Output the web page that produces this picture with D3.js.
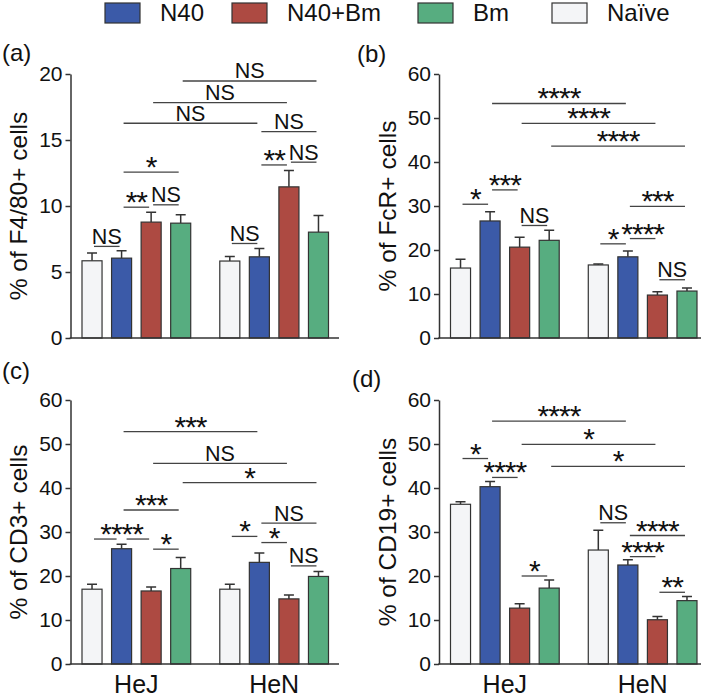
<!DOCTYPE html>
<html>
<head>
<meta charset="utf-8">
<script src="https://cdn.jsdelivr.net/npm/d3@7"></script>
<style>
  body { margin: 0; background: #fff; }
  svg text { font-family: "Liberation Sans", Arial, sans-serif; fill: #111; }
</style>
</head>
<body>
<div id="chart"></div>
<script>
// groups and treatments
const groups = ["HeJ", "HeN"];
const treatments = ["Naïve", "N40", "N40+Bm", "Bm"];
const legendOrder = ["N40", "N40+Bm", "Bm", "Naïve"];

// means and sem, one row per group, columns in treatments order
const f480Mean = [[5.85, 6.05, 8.78, 8.70], [5.83, 6.15, 11.45, 8.02]];
const f480Sem = [[0.58, 0.56, 0.75, 0.63], [0.35, 0.63, 1.24, 1.26]];
const fcrMean = [[15.9, 26.6, 20.65, 22.2], [16.6, 18.45, 9.76, 10.67]];
const fcrSem = [[2.0, 2.1, 2.25, 2.3], [0.2, 1.35, 0.74, 0.68]];
const cd3Mean = [[17.0, 26.2, 16.6, 21.7], [17.0, 23.1, 14.8, 19.9]];
const cd3Sem = [[1.1, 1.0, 0.9, 2.5], [1.1, 2.1, 0.9, 1.1]];
const cd19Mean = [[36.3, 40.3, 12.7, 17.25], [25.9, 22.5, 10.06, 14.4]];
const cd19Sem = [[0.6, 1.15, 1.0, 1.85], [4.5, 1.2, 0.74, 0.95]];

// significance lines: [from bar, to bar, height in data units, label, optional break bar]
// bars are numbered 0-3 for HeJ and 4-7 for HeN
const f480Sig = [[0, 1, 6.94, "NS"], [1, 2, 9.91, "**"], [2, 3, 10.09, "NS"], [1, 3, 12.56, "*"],
  [1, 5, 16.27, "NS"], [2, 6, 17.83, "NS"], [3, 7, 19.47, "NS"], [5, 7, 15.64, "NS"],
  [5, 6, 13.11, "**"], [6, 7, 13.32, "NS"], [4, 5, 7.16, "NS"]];
const fcrSig = [[0, 1, 30.4, "*"], [1, 2, 33.66, "***"], [2, 3, 25.57, "NS"], [1, 5, 53.3, "****"],
  [2, 6, 48.8, "****"], [3, 7, 43.6, "****"], [5, 7, 29.9, "***"], [4, 5, 21.4, "*"],
  [5, 6, 22.6, "****"], [6, 7, 13.24, "NS"]];
const cd3Sig = [[0, 2, 28.4, "****", 1], [2, 3, 26.1, "*"], [1, 3, 35.0, "***"], [1, 5, 52.8, "***"],
  [2, 6, 45.6, "NS"], [3, 7, 41.2, "*"], [4, 5, 29.0, "*"], [5, 6, 27.6, "*"], [5, 7, 32.0, "NS"],
  [6, 7, 22.3, "NS"]];
const cd19Sig = [[0, 1, 46.7, "*"], [1, 2, 42.4, "****"], [2, 3, 20.0, "*"], [1, 5, 55.2, "****"],
  [2, 6, 49.9, "*"], [3, 7, 44.9, "*"], [4, 5, 32.1, "NS"], [5, 7, 29.2, "****"],
  [5, 6, 24.4, "****"], [6, 7, 16.3, "**"]];

// y axis settings
const f480Ticks = [0, 5, 10, 15, 20];
const pctTicks = [0, 10, 20, 30, 40, 50, 60];

const panels = [
  { tag: "(a)", mean: f480Mean, sem: f480Sem, sig: f480Sig, max: 20, ticks: f480Ticks, label: "% of F4/80+ cells" },
  { tag: "(b)", mean: fcrMean, sem: fcrSem, sig: fcrSig, max: 60, ticks: pctTicks, label: "% of FcR+ cells" },
  { tag: "(c)", mean: cd3Mean, sem: cd3Sem, sig: cd3Sig, max: 60, ticks: pctTicks, label: "% of CD3+ cells" },
  { tag: "(d)", mean: cd19Mean, sem: cd19Sem, sig: cd19Sig, max: 60, ticks: pctTicks, label: "% of CD19+ cells" }
];

const colors = { "N40": "#3b5aa8", "N40+Bm": "#ad4a42", "Bm": "#57ad80", "Naïve": "#f4f5f7" };
const strokeDark = "#333";

const width = 709;
const height = 698;
const svg = d3.select("#chart")
  .append("svg")
    .attr("width", width)
    .attr("height", height)
    .attr("viewBox", [0, 0, width, height]);

// legend across the top
const legendX = [105, 232, 418, 552];
const legend = svg.selectAll(".legend")
  .data(legendOrder)
  .join("g")
    .attr("class", "legend")
    .attr("transform", (d, i) => `translate(${legendX[i]},3)`);
legend.append("rect")
    .attr("width", 35)
    .attr("height", 20)
    .attr("fill", d => colors[d])
    .attr("stroke", strokeDark)
    .attr("stroke-width", 1.2);
legend.append("text")
    .attr("x", 55)
    .attr("y", 18)
    .style("font-size", "24px")
    .text(d => d);

// panel layout: left edge of axis, right end, top and bottom of the plot
const layout = [
  { x: 70.5, right: 339, top: 74, bottom: 338, tagX: 2, tagY: 61 },
  { x: 439, right: 701, top: 74, bottom: 338, tagX: 357, tagY: 62 },
  { x: 70.5, right: 339, top: 400, bottom: 664, tagX: 2, tagY: 379 },
  { x: 439, right: 701, top: 400, bottom: 664, tagX: 352, tagY: 387 }
];

panels.forEach((p, k) => {
  const L = layout[k];
  const g = svg.append("g");

  const y = d3.scaleLinear().domain([0, p.max]).range([L.bottom, L.top]);
  const x0 = d3.scaleBand().domain(groups)
    .range([L.x + 11.5, L.x + 258]).paddingInner(0.211).paddingOuter(0);
  const x1 = d3.scaleBand().domain(treatments)
    .range([0, x0.bandwidth()]).paddingInner(0.322).paddingOuter(0);

  // flat list of bars
  const bars = [];
  groups.forEach((grp, gi) => {
    treatments.forEach((t, ti) => {
      bars.push({ group: grp, treat: t, mean: p.mean[gi][ti], sem: p.sem[gi][ti] });
    });
  });
  const barLeft = d => x0(d.group) + x1(d.treat);
  const barMid = i => barLeft(bars[i]) + x1.bandwidth() / 2;

  // error bars (upper only)
  g.selectAll(".err")
    .data(bars)
    .join("path")
      .attr("class", "err")
      .attr("fill", "none")
      .attr("stroke", strokeDark)
      .attr("stroke-width", 1.5)
      .attr("d", d => {
        const cx = barLeft(d) + x1.bandwidth() / 2;
        return `M${cx},${y(d.mean)}V${y(d.mean + d.sem)}M${cx - 5},${y(d.mean + d.sem)}H${cx + 5}`;
      });

  // bars
  g.selectAll(".bar")
    .data(bars)
    .join("rect")
      .attr("class", "bar")
      .attr("x", barLeft)
      .attr("y", d => y(d.mean))
      .attr("width", x1.bandwidth())
      .attr("height", d => y(0) - y(d.mean))
      .attr("fill", d => colors[d.treat])
      .attr("stroke", strokeDark)
      .attr("stroke-width", 1.2);

  // y axis
  const yAxis = g.append("g")
    .attr("transform", `translate(${L.x},0)`)
    .call(d3.axisLeft(y).tickValues(p.ticks).tickSize(5).tickPadding(3).tickSizeOuter(0));
  yAxis.select(".domain").attr("stroke", strokeDark).attr("stroke-width", 1.5);
  yAxis.selectAll(".tick line").attr("stroke", strokeDark).attr("stroke-width", 1.5);
  yAxis.selectAll(".tick text")
    .style("font-size", "21px")
    .style("font-family", "'Liberation Sans', Arial, sans-serif")
    .attr("fill", "#111");

  // x axis line
  g.append("line")
    .attr("x1", L.x - 0.75)
    .attr("x2", L.right)
    .attr("y1", y(0))
    .attr("y2", y(0))
    .attr("stroke", strokeDark)
    .attr("stroke-width", 1.5);

  // y axis title
  g.append("text")
    .attr("transform", `translate(${L.x - 43.5},${(L.top + L.bottom) / 2}) rotate(-90)`)
    .attr("text-anchor", "middle")
    .style("font-size", "24.5px")
    .text(p.label);

  // panel tag
  g.append("text")
    .attr("x", L.tagX)
    .attr("y", L.tagY)
    .style("font-size", "24px")
    .text(p.tag);

  // group names on bottom panels
  if (k >= 2) {
    g.selectAll(".grp")
      .data(groups)
      .join("text")
        .attr("class", "grp")
        .attr("x", d => x0(d) + x0.bandwidth() / 2)
        .attr("y", 693)
        .attr("text-anchor", "middle")
        .style("font-size", "25px")
        .text(d => d);
  }

  // significance lines and labels
  const inset = 2;
  p.sig.forEach(s => {
    const [from, to, v, label, brk] = s;
    const yy = y(v);
    const xa = barMid(from) + inset;
    const xb = barMid(to) - inset;
    const segs = brk === undefined ? [[xa, xb]] : [[xa, barMid(brk) - inset - 3], [barMid(brk) + inset + 3, xb]];
    segs.forEach(sg => {
      g.append("line")
        .attr("x1", sg[0]).attr("x2", sg[1])
        .attr("y1", yy).attr("y2", yy)
        .attr("stroke", "#444")
        .attr("stroke-width", 1.3);
    });
    const stars = label.includes("*");
    g.append("text")
      .attr("x", (barMid(from) + barMid(to)) / 2)
      .attr("y", stars ? yy + 5 : yy - 2.5)
      .attr("text-anchor", "middle")
      .style("font-size", stars ? "30px" : "21.5px")
      .style("letter-spacing", stars ? "-1px" : null)
      .text(label);
  });
});
</script>
</body>
</html>
